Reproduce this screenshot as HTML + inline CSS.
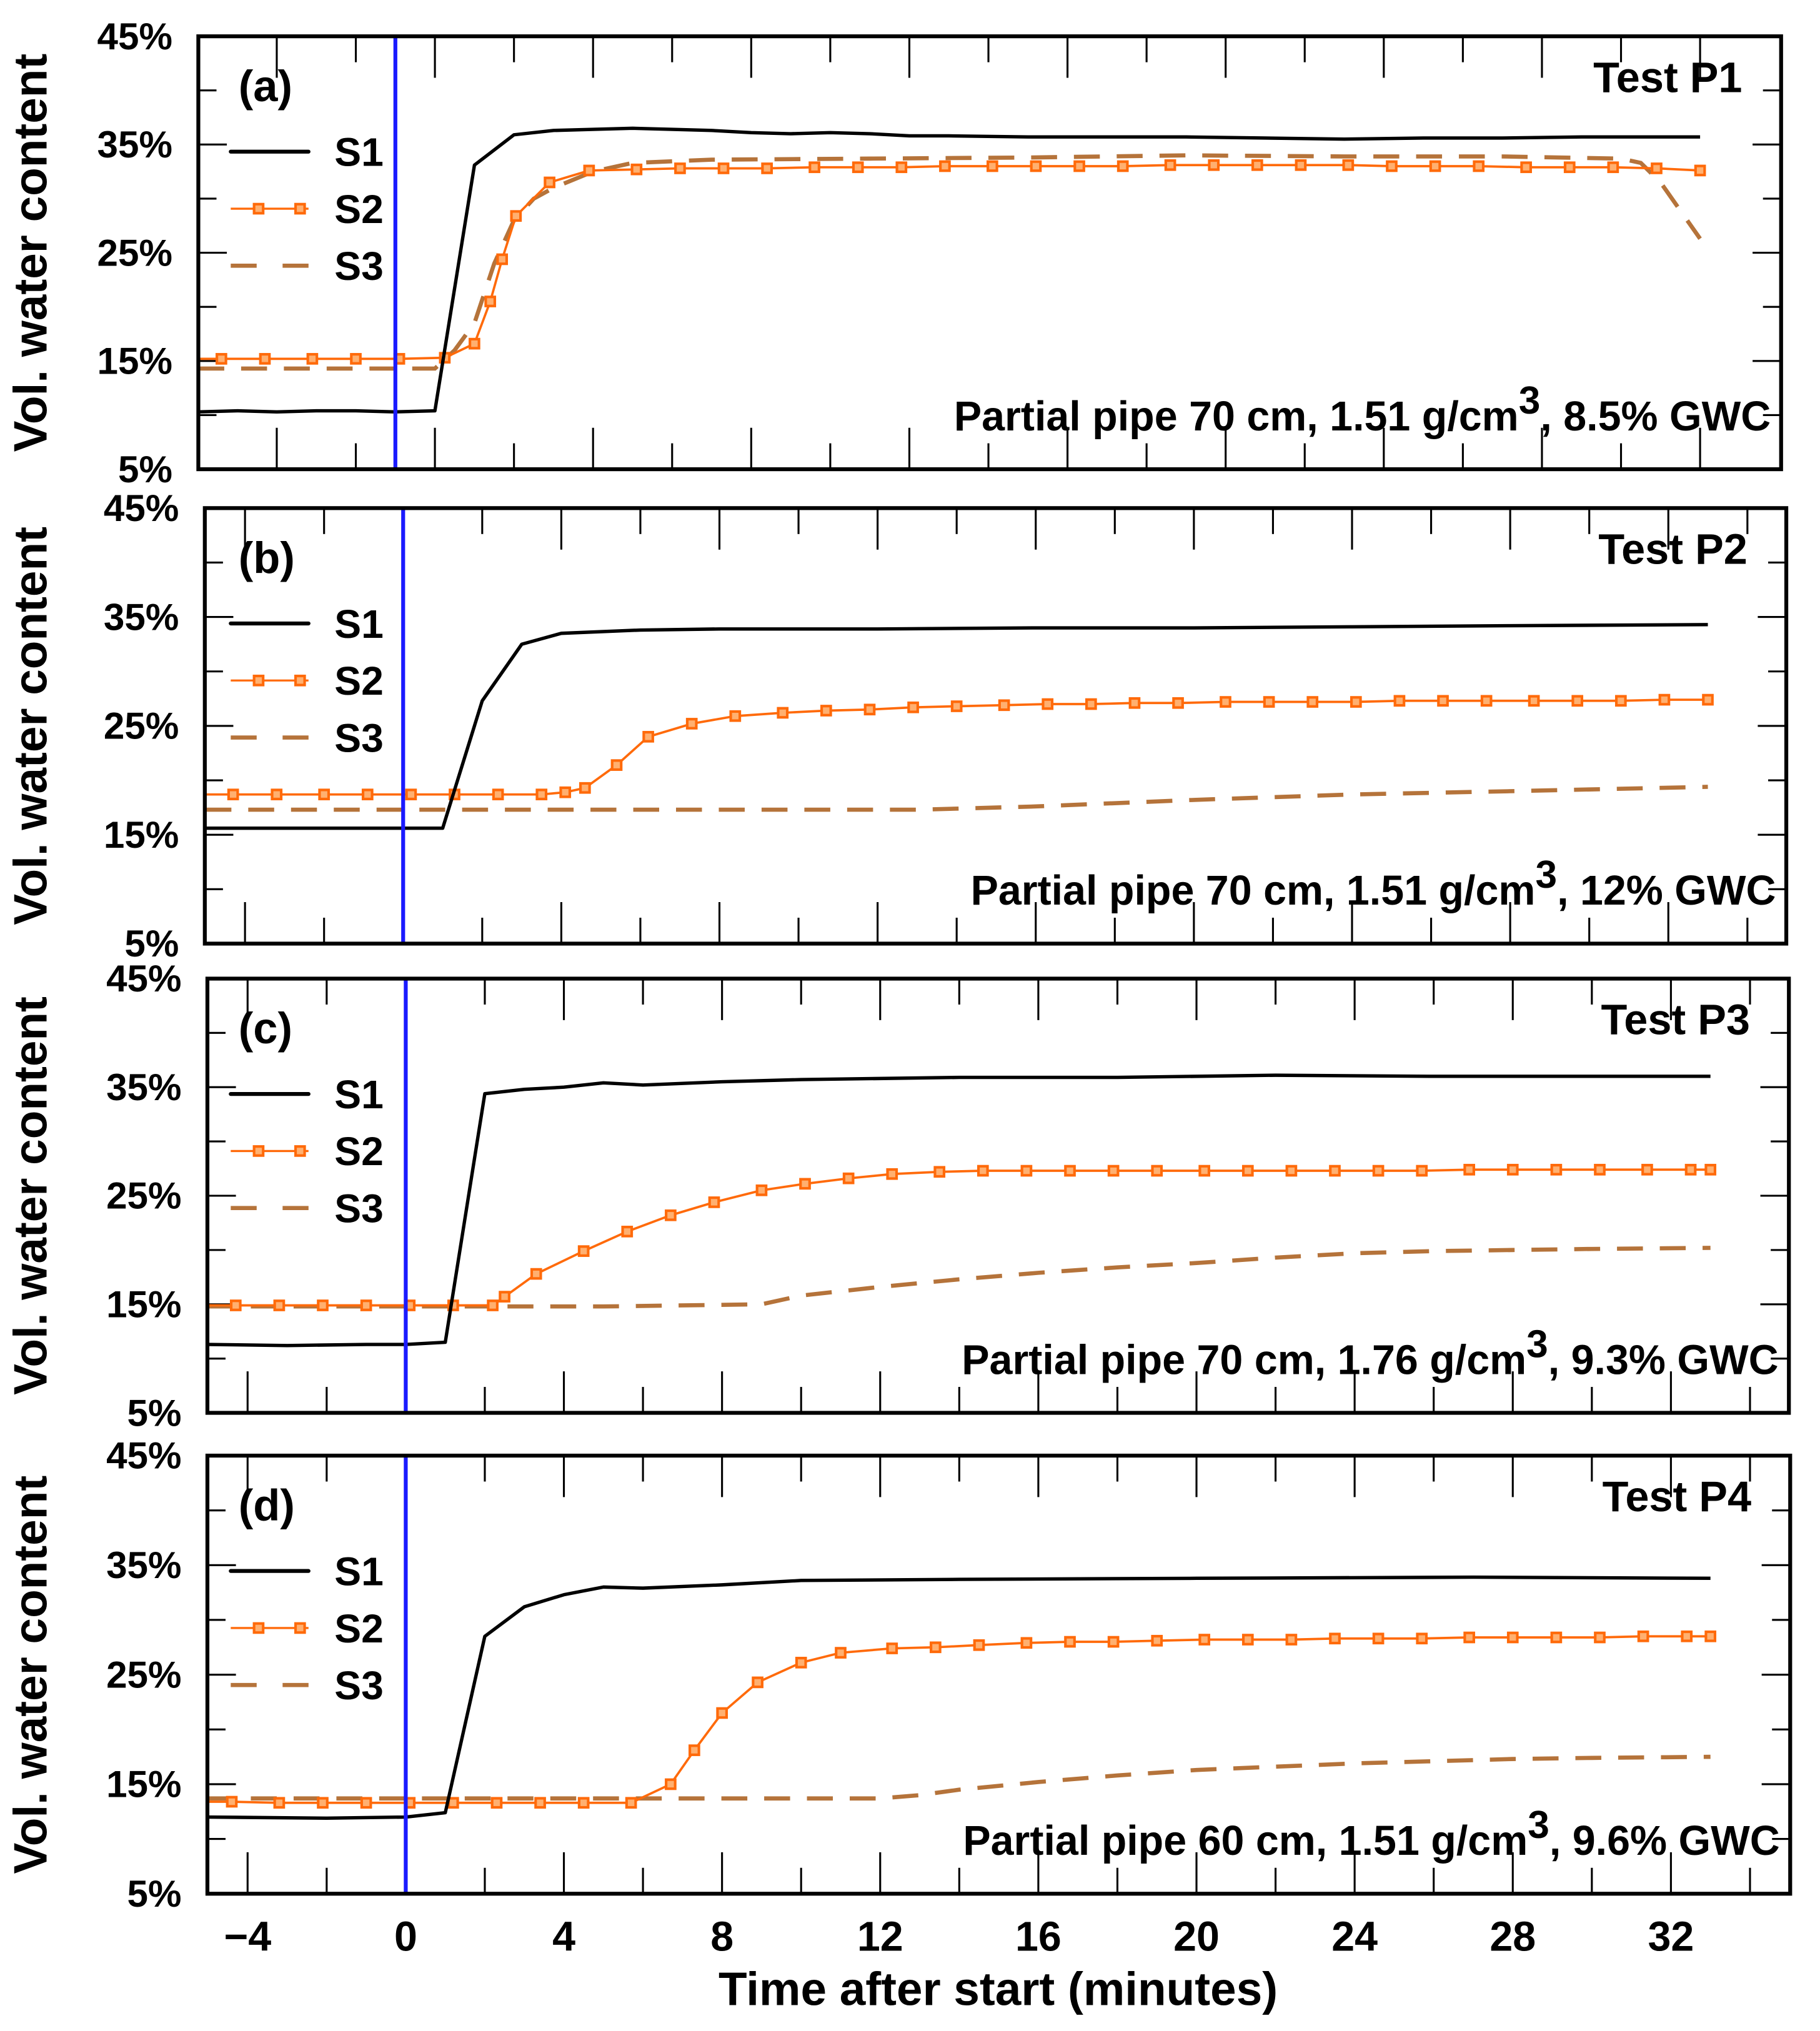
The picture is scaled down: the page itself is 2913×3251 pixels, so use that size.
<!DOCTYPE html>
<html><head><meta charset="utf-8"><style>
html,body{margin:0;padding:0;background:#fff;}
svg{display:block;}
text{font-family:"Liberation Sans",sans-serif;font-weight:bold;fill:#000;}
</style></head>
<body>
<svg id="chart" width="2913" height="3251" viewBox="0 0 1404 1566.9" xmlns="http://www.w3.org/2000/svg">
<text x="770" y="1547" font-size="36" text-anchor="middle">Time after start (minutes)</text>
</svg>
<script>
// ---- data ----
const yTicks = [5, 15, 25, 35, 45];
const xTickLabels = [-4, 0, 4, 8, 12, 16, 20, 24, 28, 32];
const panelLetters = ["(a)", "(b)", "(c)", "(d)"];
const testNames = ["Test P1", "Test P2", "Test P3", "Test P4"];
const notesMain = ["Partial pipe 70 cm, 1.51 g/cm", "Partial pipe 70 cm, 1.51 g/cm", "Partial pipe 70 cm, 1.76 g/cm", "Partial pipe 60 cm, 1.51 g/cm"];
const notesTail = [", 8.5% GWC", ", 12% GWC", ", 9.3% GWC", ", 9.6% GWC"];

const s1T_a = [-5,-4,-3,-2,-1,0,1,2,3,4,5,6,7,8,9,10,11,12,13,14,16,18,20,22,24,26,28,30,33];
const s1V_a = [10.3,10.4,10.3,10.4,10.4,10.3,10.4,33.1,35.9,36.3,36.4,36.5,36.4,36.3,36.1,36.0,36.1,36.0,35.8,35.8,35.7,35.7,35.7,35.6,35.5,35.6,35.6,35.7,35.7];
const s2T_a = [-5,-4.4,-3.3,-2.1,-1.0,0.1,1.25,2.0,2.4,2.7,3.05,3.9,4.9,6.1,7.2,8.3,9.4,10.6,11.7,12.8,13.9,15.1,16.2,17.3,18.4,19.6,20.7,21.8,22.9,24.1,25.2,26.3,27.4,28.6,29.7,30.8,31.9,33.0];
const s2V_a = [15.2,15.2,15.2,15.2,15.2,15.2,15.3,16.6,20.5,24.4,28.4,31.5,32.6,32.7,32.8,32.8,32.8,32.9,32.9,32.9,33.0,33.0,33.0,33.0,33.0,33.1,33.1,33.1,33.1,33.1,33.0,33.0,33.0,32.9,32.9,32.9,32.8,32.6];
const s3T_a = [-5,0,1,1.5,2,2.5,3,3.5,4,5,6,8,12,16,20,24,28,31,31.5,32,33];
const s3V_a = [14.3,14.3,14.3,16,18.5,24,28,30,31,32.5,33.3,33.6,33.7,33.8,34.0,33.9,33.9,33.7,33.3,31.5,26.3];

const s1T_b = [-5,0,1,2,3,4,6,8,12,16,20,24,28,33];
const s1V_b = [15.6,15.6,15.6,27.3,32.5,33.5,33.8,33.9,33.9,34.0,34.0,34.1,34.2,34.3];
const s2T_b = [-5,-4.3,-3.2,-2.0,-0.9,0.2,1.3,2.4,3.5,4.1,4.6,5.4,6.2,7.3,8.4,9.6,10.7,11.8,12.9,14.0,15.2,16.3,17.4,18.5,19.6,20.8,21.9,23.0,24.1,25.2,26.3,27.4,28.6,29.7,30.8,31.9,33.0];
const s2V_b = [18.7,18.7,18.7,18.7,18.7,18.7,18.7,18.7,18.7,18.9,19.3,21.4,24.0,25.2,25.9,26.2,26.4,26.5,26.7,26.8,26.9,27.0,27.0,27.1,27.1,27.2,27.2,27.2,27.2,27.3,27.3,27.3,27.3,27.3,27.3,27.4,27.4];
const s3T_b = [-5,0,5,10,13,16,20,24,28,33];
const s3V_b = [17.3,17.3,17.3,17.3,17.3,17.6,18.2,18.7,19.0,19.4];

const s1T_c = [-5,-3,-1,0,1,2,3,4,5,6,8,10,14,18,22,26,33];
const s1V_c = [11.3,11.2,11.3,11.3,11.5,34.4,34.8,35.0,35.4,35.2,35.5,35.7,35.9,35.9,36.1,36.0,36.0];
const s2T_c = [-5,-4.3,-3.2,-2.1,-1.0,0.1,1.2,2.2,2.5,3.3,4.5,5.6,6.7,7.8,9.0,10.1,11.2,12.3,13.5,14.6,15.7,16.8,17.9,19.0,20.2,21.3,22.4,23.5,24.6,25.7,26.9,28.0,29.1,30.2,31.4,32.5,33.0];
const s2V_c = [14.9,14.9,14.9,14.9,14.9,14.9,14.9,14.9,15.7,17.8,19.9,21.7,23.2,24.4,25.5,26.1,26.6,27.0,27.2,27.3,27.3,27.3,27.3,27.3,27.3,27.3,27.3,27.3,27.3,27.3,27.4,27.4,27.4,27.4,27.4,27.4,27.4];
const s3T_c = [-5,0,5,9,10,12,14,16,18,20,22,24,26,28,30,33];
const s3V_c = [14.8,14.8,14.8,15.0,15.8,16.6,17.3,17.9,18.4,18.8,19.3,19.7,19.9,20.0,20.1,20.2];

const s1T_d = [-5,-2,0,1,2,3,4,5,6,8,10,14,20,27,33];
const s1V_d = [12.0,11.9,12.0,12.4,28.5,31.2,32.3,33.0,32.9,33.2,33.6,33.7,33.8,33.9,33.8];
const s2T_d = [-5,-4.4,-3.2,-2.1,-1.0,0.1,1.2,2.3,3.4,4.5,5.7,6.7,7.3,8.0,8.9,10.0,11.0,12.3,13.4,14.5,15.7,16.8,17.9,19.0,20.2,21.3,22.4,23.5,24.6,25.7,26.9,28.0,29.1,30.2,31.3,32.4,33.0];
const s2V_d = [13.4,13.4,13.3,13.3,13.3,13.3,13.3,13.3,13.3,13.3,13.3,15.0,18.1,21.5,24.3,26.1,27.0,27.4,27.5,27.7,27.9,28.0,28.0,28.1,28.2,28.2,28.2,28.3,28.3,28.3,28.4,28.4,28.4,28.4,28.5,28.5,28.5];
const s3T_d = [-5,0,5,10,12,13,14,16,18,20,22,24,26,28,30,33];
const s3V_d = [13.7,13.7,13.7,13.7,13.7,14.0,14.5,15.2,15.8,16.3,16.6,16.9,17.1,17.3,17.4,17.5];

const s1T = [s1T_a, s1T_b, s1T_c, s1T_d], s1V = [s1V_a, s1V_b, s1V_c, s1V_d];
const s2T = [s2T_a, s2T_b, s2T_c, s2T_d], s2V = [s2V_a, s2V_b, s2V_c, s2V_d];
const s3T = [s3T_a, s3T_b, s3T_c, s3T_d], s3V = [s3V_a, s3V_b, s3V_c, s3V_d];

// ---- layout ----
const panels = [
  {l:153,t:28,r:1374,b:362,z:305,tickOff:1},
  {l:158,t:392,r:1378,b:728,z:311,tickOff:0},
  {l:160,t:755,r:1380,b:1090,z:313,tickOff:0},
  {l:160,t:1123,r:1381,b:1461,z:313,tickOff:0}
];
const PXMIN = 30.5;
const svg = document.getElementById('chart');
const NS = 'http://www.w3.org/2000/svg';
function mk(tag, attrs, parent){
  const e = document.createElementNS(NS, tag);
  for (const k in attrs) e.setAttribute(k, attrs[k]);
  (parent||svg).appendChild(e);
  return e;
}
function pts(P, T, V){
  const n = Math.min(T.length, V.length);
  const a = [];
  for (let i=0;i<n;i++){
    const x = Math.max(P.l, P.z + T[i]*PXMIN);
    a.push([x, yOf(P, V[i])]);
  }
  return a;
}
function yOf(P, v){ return P.b - (v-5)/40*(P.b-P.t); }

panels.forEach((P, pi) => {
  const g = mk('g', {});
  
  
  for (let v=10; v<45; v+=5){
    const y = yOf(P, v);
    const len = (v%10===5) ? 22 : 14;
    mk('line', {x1:P.l, x2:P.l+len, y1:y, y2:y, stroke:'#000','stroke-width':1.5}, g);
    mk('line', {x1:P.r, x2:P.r-len, y1:y, y2:y, stroke:'#000','stroke-width':1.5}, g);
  }
  yTicks.forEach(v => {
    const t = mk('text', {x:P.l-20, y:yOf(P,v)+10, 'font-size':29, 'text-anchor':'end'}, g);
    t.textContent = v + '%';
    
    
  });
  for (let k=-8; k<=20; k++){
    const m = P.tickOff + 2*k;
    const x = P.z + m*PXMIN;
    if (x <= P.l+2 || x >= P.r-2) continue;
    const len = (k%2===0) ? 32 : 20;
    mk('line', {x1:x, x2:x, y1:P.b, y2:P.b-len, stroke:'#000','stroke-width':1.5}, g);
    mk('line', {x1:x, x2:x, y1:P.t, y2:P.t+len, stroke:'#000','stroke-width':1.5}, g);
  }
  const p3 = pts(P, s3T[pi], s3V[pi]);
  const l3 = mk('polyline', {points:p3.map(p=>p.join(',')).join(' '), fill:'none', stroke:'#b5733a','stroke-width':3.2,'stroke-dasharray':'20,13'}, g);
  
  
  const p2 = pts(P, s2T[pi], s2V[pi]);
  const l2 = mk('polyline', {points:p2.map(p=>p.join(',')).join(' '), fill:'none', stroke:'#ff6a0a','stroke-width':1.8}, g);
  
  
  p2.forEach((p, i) => {
    if (i===0) return;
    const m = mk('rect', {x:p[0]-3.5, y:p[1]-3.5, width:7, height:7, fill:'#ffb070', stroke:'#ff6a0a','stroke-width':2}, g);
    
    
  });
  const p1 = pts(P, s1T[pi], s1V[pi]);
  const l1 = mk('polyline', {points:p1.map(p=>p.join(',')).join(' '), fill:'none', stroke:'#000','stroke-width':2.6,'stroke-linejoin':'round'}, g);
  
  
  const bl = mk('line', {x1:P.z, x2:P.z, y1:P.t, y2:P.b, stroke:'#1a1aff','stroke-width':3}, g);
  
  
  const fr = mk('rect', {x:P.l, y:P.t, width:P.r-P.l, height:P.b-P.t, fill:'none', stroke:'#000','stroke-width':3}, g);
  
  
  const ly0 = P.t + 89;
  const leg = [['S1','s1'],['S2','s2'],['S3','s3']];
  leg.forEach((L, i) => {
    const y = ly0 + i*44;
    if (i===0) mk('line', {x1:178,x2:238,y1:y,y2:y,stroke:'#000','stroke-width':3,'stroke-linecap':'round'}, g);
    if (i===1){
      mk('line', {x1:178,x2:238,y1:y,y2:y,stroke:'#ff6a0a','stroke-width':1.6}, g);
      mk('rect', {x:196,y:y-3.5,width:7,height:7,fill:'#ffb070',stroke:'#ff6a0a','stroke-width':2}, g);
      mk('rect', {x:228,y:y-3.5,width:7,height:7,fill:'#ffb070',stroke:'#ff6a0a','stroke-width':2}, g);
    }
    if (i===2) mk('line', {x1:178,x2:238,y1:y,y2:y,stroke:'#b5733a','stroke-width':3.2,'stroke-dasharray':'20,20'}, g);
    const t = mk('text', {x:258, y:y+11, 'font-size':31}, g);
    t.textContent = L[0];
    
    
  });
  const pl = mk('text', {x:184, y:P.t+50, 'font-size':34}, g);
  pl.textContent = panelLetters[pi];
  
  
  const tn = mk('text', {x:P.r-30, y:P.t+43, 'font-size':33, 'text-anchor':'end'}, g);
  tn.textContent = testNames[pi];
  
  
  const nt = mk('text', {x:P.r-8, y:P.b-30, 'font-size':32, 'text-anchor':'end'}, g);
  
  
  const a = document.createElementNS(NS,'tspan'); a.textContent = notesMain[pi]; nt.appendChild(a);
  const s = document.createElementNS(NS,'tspan'); s.setAttribute('dy','-13'); s.setAttribute('font-size','30'); s.textContent='3'; nt.appendChild(s);
  const c = document.createElementNS(NS,'tspan'); c.setAttribute('dy','13'); c.textContent = notesTail[pi]; nt.appendChild(c);
  const yt = mk('text', {x:0, y:0, 'font-size':36, 'text-anchor':'middle', transform:'translate(36,'+((P.t+P.b)/2)+') rotate(-90)'}, g);
  yt.textContent = 'Vol. water content';
  
  
});
const PD = panels[3];
xTickLabels.forEach(v => {
  const t = mk('text', {x:PD.z + v*PXMIN, y:1505, 'font-size':32, 'text-anchor':'middle'});
  t.textContent = v < 0 ? '\u2212' + Math.abs(v) : String(v);
  
  
});
</script>
</body></html>
